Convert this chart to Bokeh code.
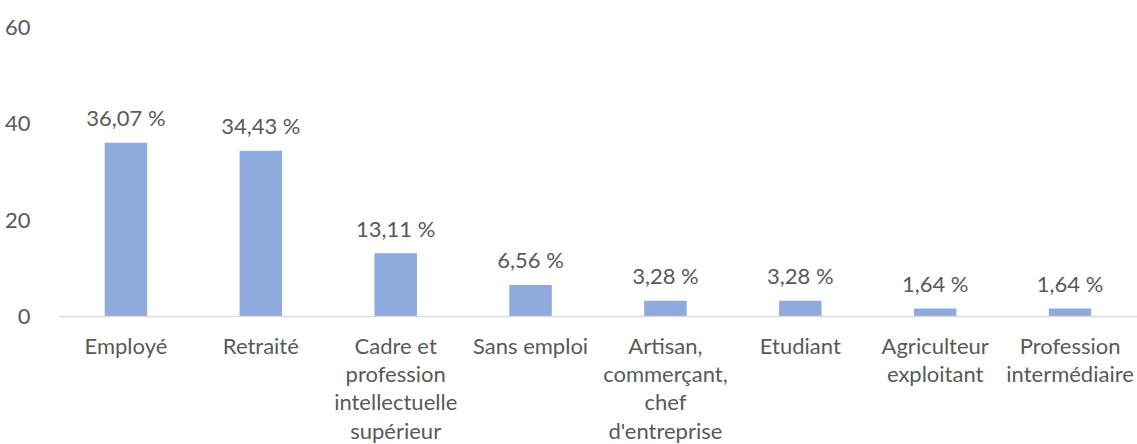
from bokeh.plotting import figure
from bokeh.models import ColumnDataSource, Range1d, FactorRange, FixedTicker, LabelSet, Span
from bokeh.core.properties import value
from bokeh.embed import file_html
from bokeh.resources import INLINE

categories = ["Employé", "Retraité", "Cadre et\nprofession\nintellectuelle\nsupérieur",
              "Sans emploi", "Artisan,\ncommerçant,\nchef\nd'entreprise", "Etudiant",
              "Agriculteur\nexploitant", "Profession\nintermédiaire"]
values = [36.07, 34.43, 13.11, 6.56, 3.28, 3.28, 1.64, 1.64]
value_labels = ["36,07 %", "34,43 %", "13,11 %", "6,56 %", "3,28 %", "3,28 %", "1,64 %", "1,64 %"]
y_ticks = [0, 20, 40, 60]

FONT = "Lato"
FSIZE = "22px"
TCOLOR = "#595959"

# layout: y=60 at 27px from top, y=0 at 316px, figure 444px tall
TOP, ZERO_PX, H = 27, 316, 444
ppu = (ZERO_PX - TOP) / 60.0
y_start = -(H - ZERO_PX) / ppu

src = ColumnDataSource(dict(cat=categories, v=values, lab=value_labels,
                            zero=[0] * len(categories)))

p = figure(width=1137, height=H, output_backend="svg", toolbar_location=None,
           x_range=FactorRange(factors=categories), y_range=Range1d(y_start, 60),
           min_border_left=58, min_border_right=0, min_border_top=TOP, min_border_bottom=0)
p.outline_line_color = None
p.xgrid.visible = False
p.ygrid.visible = False
p.background_fill_color = "white"
p.border_fill_color = "white"
p.xaxis.visible = False

p.vbar(x="cat", top="v", width=0.315, bottom=0, source=src,
       fill_color="#8FAADC", line_color=None)

p.add_layout(Span(location=0, dimension="width", line_color="#D9D9D9", line_width=1.5))

# y axis
p.yaxis.ticker = FixedTicker(ticks=y_ticks)
p.yaxis.axis_line_color = None
p.yaxis.major_tick_line_color = None
p.yaxis.minor_tick_line_color = None
p.yaxis.major_label_standoff = 22
p.yaxis.major_label_text_font = FONT
p.yaxis.major_label_text_font_size = FSIZE
p.yaxis.major_label_text_color = TCOLOR

# category labels below the baseline
p.text(x="cat", y="zero", text="cat", source=src, y_offset=15,
       text_align="center", text_baseline="top", text_line_height=1.05,
       text_font=value(FONT), text_font_size=value(FSIZE), text_color=TCOLOR)

vl = LabelSet(x="cat", y="v", text="lab", source=src, y_offset=25,
              text_align="center", text_baseline="middle",
              text_font=value(FONT), text_font_size=value(FSIZE), text_color=TCOLOR)
p.add_layout(vl)

open("out.html", "w").write(file_html(p, INLINE))
